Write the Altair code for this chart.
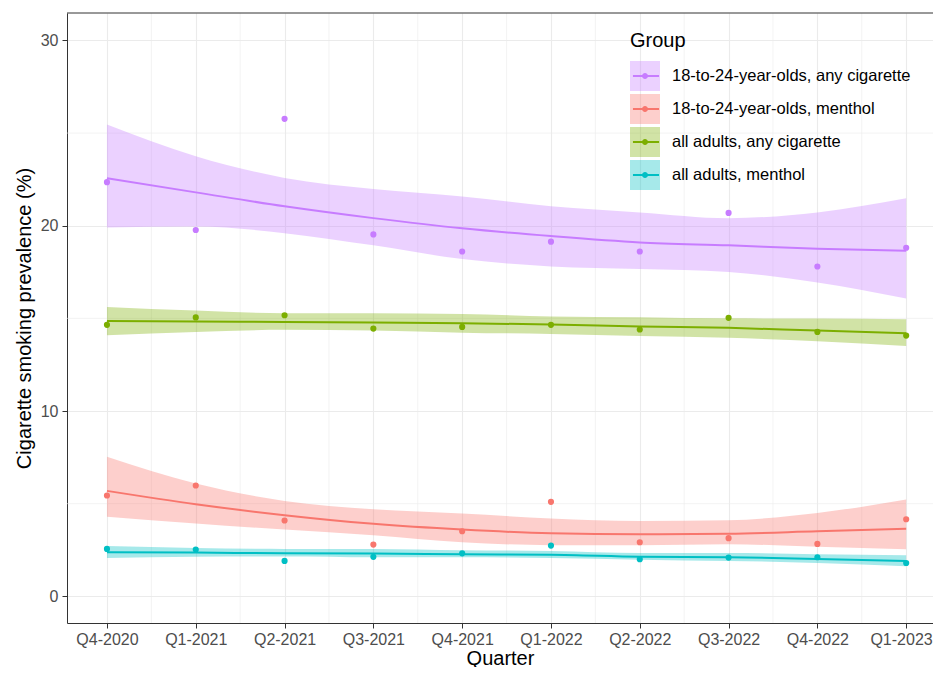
import altair as alt
import pandas as pd

# ---------------- data ----------------
quarters = ["Q4-2020", "Q1-2021", "Q2-2021", "Q3-2021", "Q4-2021",
            "Q1-2022", "Q2-2022", "Q3-2022", "Q4-2022", "Q1-2023"]

groups = ["18-to-24-year-olds, any cigarette", "18-to-24-year-olds, menthol",
          "all adults, any cigarette", "all adults, menthol"]
colors = ["#C77CFF", "#F8766D", "#7CAE00", "#00BFC4"]

young_any_obs = [22.35, 19.77, 25.77, 19.53, 18.61, 19.14, 18.61, 20.69, 17.80, 18.81]
young_any_fit = [22.56, 21.80, 21.05, 20.41, 19.86, 19.44, 19.10, 18.94, 18.76, 18.65]
young_any_lo = [19.91, 19.96, 19.60, 18.94, 18.20, 17.80, 17.66, 17.50, 16.94, 16.07]
young_any_hi = [25.46, 23.75, 22.58, 21.98, 21.58, 21.05, 20.72, 20.41, 20.72, 21.48]

young_men_obs = [5.44, 5.98, 4.09, 2.79, 3.51, 5.10, 2.92, 3.14, 2.83, 4.16]
young_men_fit = [5.69, 4.97, 4.38, 3.91, 3.60, 3.40, 3.35, 3.38, 3.51, 3.64]
young_men_lo = [4.29, 3.93, 3.60, 3.30, 2.92, 2.76, 2.76, 2.81, 2.67, 2.54]
young_men_hi = [7.53, 6.09, 5.15, 4.70, 4.47, 4.20, 4.07, 4.11, 4.50, 5.23]

all_any_obs = [14.65, 15.05, 15.17, 14.45, 14.54, 14.65, 14.40, 15.03, 14.27, 14.07]
all_any_fit = [14.86, 14.83, 14.81, 14.78, 14.74, 14.67, 14.56, 14.49, 14.34, 14.20]
all_any_lo = [14.09, 14.27, 14.38, 14.34, 14.23, 14.16, 14.05, 13.95, 13.77, 13.51]
all_any_hi = [15.62, 15.42, 15.28, 15.28, 15.24, 15.10, 15.06, 15.00, 14.99, 14.95]

all_men_obs = [2.56, 2.52, 1.91, 2.13, 2.32, 2.74, 2.00, 2.09, 2.11, 1.80]
all_men_fit = [2.38, 2.36, 2.32, 2.31, 2.27, 2.25, 2.14, 2.11, 2.02, 1.91]
all_men_lo = [2.07, 2.13, 2.15, 2.11, 2.11, 2.07, 1.98, 1.91, 1.80, 1.62]
all_men_hi = [2.72, 2.61, 2.56, 2.56, 2.49, 2.45, 2.34, 2.34, 2.27, 2.22]

y_ticks = [0, 10, 20, 30]
y_minor = [5, 15, 25]
x_minor = [0.5, 1.5, 2.5, 3.5, 4.5, 5.5, 6.5, 7.5, 8.5]

series = {
    groups[0]: (young_any_obs, young_any_fit, young_any_lo, young_any_hi),
    groups[1]: (young_men_obs, young_men_fit, young_men_lo, young_men_hi),
    groups[2]: (all_any_obs, all_any_fit, all_any_lo, all_any_hi),
    groups[3]: (all_men_obs, all_men_fit, all_men_lo, all_men_hi),
}

rows = []
for g, (obs, fit, lo, hi) in series.items():
    for i, q in enumerate(quarters):
        rows.append({"qi": i, "Quarter": q, "Group": g,
                     "obs": obs[i], "fit": fit[i], "lo": lo[i], "hi": hi[i]})
df = pd.DataFrame(rows)

# ---------------- layout ----------------
W, H = 866, 610
FONT = "Liberation Sans"

xscale = alt.Scale(domain=[-0.45, 9.302], nice=False, zero=False)
yscale = alt.Scale(domain=[-1.44, 31.48], nice=False, zero=False)

label_expr = "[" + ",".join("'" + q + "'" for q in quarters) + "][datum.value]"
xaxis = alt.Axis(title="Quarter", values=list(range(len(quarters))), labelExpr=label_expr,
                 titleY=41, titleBaseline="alphabetic", labelPadding=3, labelFlush=30,
                 labelFlushOffset=26, labelOverlap=False)
yaxis = alt.Axis(title="Cigarette smoking prevalence (%)", values=y_ticks, titlePadding=6,
                 labelPadding=4)


def X(field):
    return alt.X(field, type="quantitative", scale=xscale, axis=xaxis)


def Y(field):
    return alt.Y(field, type="quantitative", scale=yscale, axis=yaxis)


minor_x = alt.Chart(pd.DataFrame({"m": x_minor})).mark_rule(
    color="#EBEBEB", strokeWidth=0.6).encode(x=X("m"))
minor_y = alt.Chart(pd.DataFrame({"m": y_minor})).mark_rule(
    color="#EBEBEB", strokeWidth=0.6).encode(y=Y("m"))

cscale = alt.Scale(domain=groups, range=colors)
LX, LY = 563, 18
LY2 = LY + 30

common = dict(orient="none", legendX=LX, symbolSize=900, rowPadding=3, clipHeight=30,
              labelOffset=12, padding=0, labelLimit=400)

band = alt.Chart(df).mark_area(opacity=0.35, interpolate="monotone").encode(
    x=X("qi"), y=Y("lo"), y2="hi",
    color=alt.Color("Group:N", scale=cscale, sort=groups,
                    legend=alt.Legend(title="Group", legendY=LY, titlePadding=10,
                                      symbolType="square", symbolStrokeWidth=0,
                                      symbolOpacity=0.35, **common)),
)

line = alt.Chart(df).mark_line(strokeWidth=2, interpolate="monotone").encode(
    x=X("qi"), y=Y("fit"),
    color=alt.Color("Group:N", scale=cscale, sort=groups,
                    legend=alt.Legend(title=None, legendY=LY2, labelExpr="''",
                                      symbolType="M-0.87,0H0.87", symbolStrokeWidth=2,
                                      **common)),
)

pts = alt.Chart(df).mark_point(filled=True, opacity=1, size=38).encode(
    x=X("qi"), y=Y("obs"),
    color=alt.Color("Group:N", scale=cscale, sort=groups,
                    legend=alt.Legend(title=None, legendY=LY2, labelExpr="''",
                                      symbolType="M-0.2,0A0.2,0.2,0,1,1,0.2,0A0.2,0.2,0,1,1,-0.2,0Z",
                                      symbolStrokeWidth=0, symbolOpacity=1, **common)),
)

top_border = alt.Chart(pd.DataFrame({"a": [0]})).mark_rule(color="#333333", strokeWidth=1).encode(
    x=alt.value(0), x2=alt.value(W), y=alt.value(0))

chart = alt.layer(minor_x, minor_y, band, line, pts, top_border).resolve_scale(
    color="independent"
).properties(
    width=W, height=H,
    autosize=alt.AutoSizeParams(type="none"),
    padding={"left": 59, "top": 5, "right": 0, "bottom": 44},
).configure(
    font=FONT,
).configure_view(
    stroke="transparent",
).configure_axis(
    domainColor="#333333", domainWidth=1, tickColor="#333333", tickSize=5, tickWidth=1,
    labelColor="#4D4D4D", labelFontSize=16, labelFont=FONT,
    titleFontSize=20, titleFontWeight="normal", titleColor="#000000", titleFont=FONT,
    gridColor="#EBEBEB", gridWidth=1.1,
).configure_legend(
    titleFontSize=20, titleFontWeight="normal", titleFont=FONT, titleColor="#000000",
    labelFontSize=16.5, labelFont=FONT, labelColor="#000000",
)

chart.save("out.html", embed_options={"renderer": "svg", "actions": False})
